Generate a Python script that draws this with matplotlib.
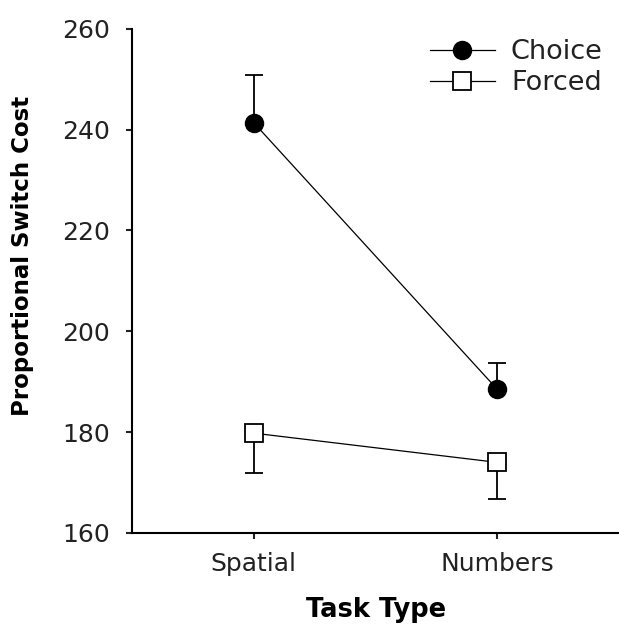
import numpy as np
import matplotlib.pyplot as plt

# Data
task_types = ["Spatial", "Numbers"]
choice_mean = [241.4, 188.5]
choice_err = [9.5, 5.2]      # upper error bars only
forced_mean = [179.8, 174.0]
forced_err = [8.0, 7.3]      # lower error bars only

plt.rcParams["font.family"] = ["DejaVu Sans"]


def main() -> None:
    fig = plt.figure(figsize=(6.19, 6.27), dpi=100)
    ax = fig.add_axes([0.213, 0.150, 0.787, 0.804])

    x = np.arange(len(task_types))
    zeros = np.zeros(len(task_types))

    ax.errorbar(x, choice_mean, yerr=[zeros, choice_err], fmt="none",
                ecolor="black", elinewidth=1.3, capsize=6.5, capthick=1.3, zorder=2)
    ax.errorbar(x, forced_mean, yerr=[forced_err, zeros], fmt="none",
                ecolor="black", elinewidth=1.3, capsize=6.5, capthick=1.3, zorder=2)

    ax.plot(x, choice_mean, color="black", linewidth=0.9, marker="o", markersize=13,
            markerfacecolor="black", markeredgecolor="black", label="Choice", zorder=3)
    ax.plot(x, forced_mean, color="black", linewidth=0.9, marker="s", markersize=12.5,
            markerfacecolor="white", markeredgecolor="black", markeredgewidth=1.3,
            label="Forced", zorder=3)

    ax.set_xlim(-0.5, 1.5)
    ax.set_ylim(160, 260)
    ax.set_yticks(np.arange(160, 261, 20))
    ax.set_xticks(x)
    ax.set_xticklabels(task_types)

    for side in ("top", "right"):
        ax.spines[side].set_visible(False)
    for side in ("left", "bottom"):
        ax.spines[side].set_linewidth(1.5)
    ax.tick_params(axis="both", labelsize=18, width=1.5, length=4.5, colors="#222222")
    ax.tick_params(axis="x", pad=9)
    ax.tick_params(axis="y", pad=11)

    ax.set_ylabel("Proportional Switch Cost", fontsize=16.5, fontweight="bold")
    ax.yaxis.set_label_coords(-0.200, 0.55)
    ax.set_xlabel("Task Type", fontsize=18.5, fontweight="bold")
    ax.xaxis.set_label_coords(0.501, -0.128)

    leg = ax.legend(loc="upper right", bbox_to_anchor=(1.0, 1.012), frameon=False, fontsize=19.5,
                    handlelength=2.4, handletextpad=0.6, labelspacing=0.2, borderaxespad=0.2)
    for text in leg.get_texts():
        text.set_color("#222222")

    plt.savefig("out.png", dpi=100)


if __name__ == "__main__":
    main()
